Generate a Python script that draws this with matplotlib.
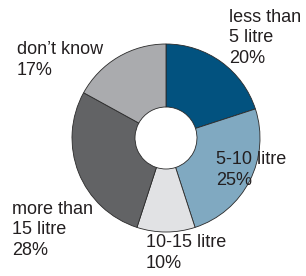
import matplotlib
matplotlib.use("Agg")
import matplotlib.pyplot as plt

# share of answers (%), clockwise from 12 o'clock
labels = ["less than\n5 litre", "5-10 litre", "10-15 litre", "more than\n15 litre", "don\u2019t know"]
shares = [20, 25, 10, 28, 17]
colors = ["#02527f", "#80a9c1", "#e1e2e4", "#626365", "#aaabae"]

# label anchor points in pixel coordinates (left edge, vertical centre, y from top)
label_pos = [(229, 38), (216, 170), (146, 253), (12, 230), (17, 60)]

W, H = 306, 276
fig = plt.figure(figsize=(W / 100, H / 100), dpi=100)
ax = fig.add_axes([0, 0, 1, 1])

ax.pie(shares, colors=colors, startangle=90, counterclock=False,
       center=(166, H - 138), radius=94,
       wedgeprops=dict(width=63, edgecolor="#2a2a2a", linewidth=0.6))

ax.set_xlim(0, W)
ax.set_ylim(0, H)
ax.set_aspect("equal")
ax.axis("off")

for lab, val, (x, y) in zip(labels, shares, label_pos):
    ax.text(x, H - y, f"{lab}\n{val}%", ha="left", va="center",
            fontsize=13, family="Liberation Sans", color="#231f20",
            linespacing=1.3)

fig.savefig("out.png", dpi=100)
